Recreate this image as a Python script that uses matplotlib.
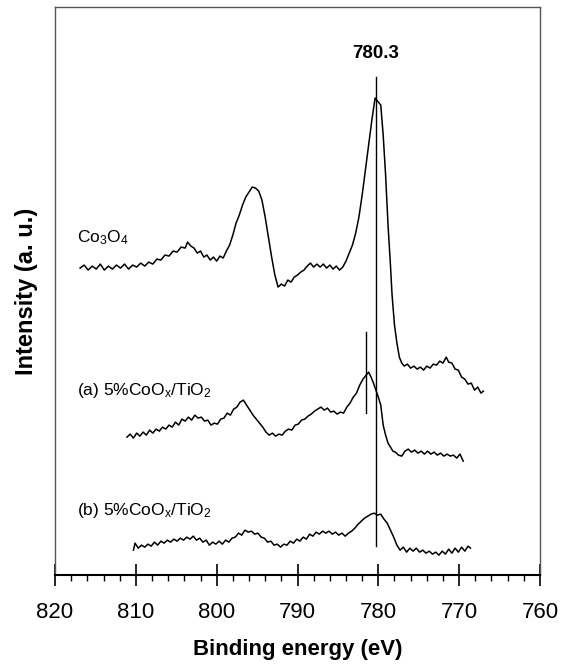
import matplotlib
matplotlib.use("Agg")
import matplotlib.pyplot as plt
from matplotlib.ticker import MultipleLocator

plt.rcParams['font.family'] = ['Liberation Sans', 'DejaVu Sans']
plt.rcParams['mathtext.fontset'] = 'custom'
plt.rcParams['mathtext.rm'] = 'Liberation Sans'
plt.rcParams['mathtext.it'] = 'Liberation Sans'
plt.rcParams['mathtext.bf'] = 'Liberation Sans:bold'

# Binding energy (eV) and intensity (a.u., offset stacked)
co3o4_be = [816.9, 816.4, 815.9, 815.4, 814.9, 814.4, 813.9, 813.4, 812.9, 812.4,
            811.9, 811.4, 810.9, 810.4, 809.9, 809.4, 808.9, 808.4, 807.9, 807.4,
            806.9, 806.4, 805.9, 805.4, 804.9, 804.4, 803.9, 803.6, 803.2, 802.8,
            802.4, 802.0, 801.6, 801.2, 800.8, 800.4, 800.0, 799.6, 799.2, 798.8,
            798.4, 798.0, 797.6, 797.2, 796.8, 796.4, 796.0, 795.6, 795.2, 794.8,
            794.4, 794.0, 793.6, 793.2, 792.8, 792.4, 792.0, 791.6, 791.2, 790.8,
            790.4, 790.0, 789.6, 789.2, 788.8, 788.4, 788.0, 787.6, 787.2, 786.8,
            786.4, 786.0, 785.6, 785.2, 784.8, 784.4, 784.0, 783.6, 783.2, 782.8,
            782.4, 782.0, 781.6, 781.2, 780.8, 780.4, 780.0, 779.7, 779.4, 779.1,
            778.8, 778.5, 778.3, 778.0, 777.7, 777.4, 777.1, 776.8, 776.4, 776.0,
            775.6, 775.2, 774.8, 774.4, 774.0, 773.6, 773.2, 772.8, 772.4, 772.0,
            771.6, 771.3, 770.9, 770.5, 770.1, 769.7, 769.3, 768.9, 768.5, 768.1,
            767.7, 767.3, 767.0]
co3o4_int = [307, 310, 305, 309, 306, 311, 305, 309, 306, 310,
             307, 311, 306, 310, 308, 312, 309, 313, 311, 316,
             315, 320, 319, 324, 323, 328, 327, 333, 329, 327,
             322, 324, 318, 320, 315, 318, 314, 319, 317, 324,
             330, 340, 352, 360, 370, 378, 383, 388, 387, 384,
             375, 358, 338, 318, 300, 288, 291, 289, 295, 293,
             298, 300, 303, 305, 309, 312, 308, 311, 308, 311,
             307, 310, 306, 309, 305, 308, 314, 322, 330, 342,
             358, 380, 405, 430, 455, 477, 473, 470, 440, 400,
             350, 310, 280, 250, 232, 218, 212, 209, 211, 207,
             209, 206, 208, 205, 209, 207, 211, 210, 214, 212,
             218, 213, 212, 206, 205, 198, 196, 191, 192, 185,
             188, 182, 184]

a_be = [811.1, 810.7, 810.3, 809.9, 809.5, 809.1, 808.7, 808.3, 807.9, 807.5,
        807.1, 806.7, 806.3, 805.9, 805.5, 805.1, 804.7, 804.3, 803.9, 803.5,
        803.1, 802.7, 802.3, 801.9, 801.5, 801.1, 800.7, 800.3, 799.9, 799.5,
        799.1, 798.7, 798.3, 797.9, 797.5, 797.1, 796.7, 796.3, 795.9, 795.5,
        795.1, 794.7, 794.3, 793.9, 793.5, 793.1, 792.7, 792.3, 791.9, 791.5,
        791.1, 790.7, 790.3, 789.9, 789.5, 789.1, 788.7, 788.3, 787.9, 787.5,
        787.1, 786.7, 786.3, 785.9, 785.5, 785.1, 784.7, 784.3, 783.9, 783.5,
        783.1, 782.7, 782.3, 781.9, 781.5, 781.2, 780.9, 780.6, 780.3, 780.0,
        779.7, 779.4, 779.1, 778.8, 778.5, 778.2, 777.9, 777.5, 777.1, 776.7,
        776.3, 775.9, 775.5, 775.1, 774.7, 774.3, 773.9, 773.5, 773.1, 772.7,
        772.3, 771.9, 771.5, 771.1, 770.7, 770.3, 769.9, 769.5]
a_int = [138, 141, 137, 142, 139, 143, 140, 145, 142, 146,
         144, 148, 146, 150, 148, 153, 150, 156, 154, 158,
         155, 160, 157, 158, 154, 155, 150, 152, 151, 156,
         157, 162, 160, 166, 168, 173, 175, 170, 165, 160,
         156, 152, 148, 143, 140, 142, 139, 141, 140, 144,
         146, 145, 150, 151, 155, 156, 159, 161, 164, 166,
         168, 165, 167, 163, 164, 161, 163, 162, 168, 172,
         178, 182, 190, 196, 200, 203, 198, 192, 185, 178,
         170, 150, 140, 132, 128, 124, 123, 120, 119, 124,
         126, 123, 125, 122, 124, 121, 124, 121, 123, 120,
         122, 119, 121, 119, 120, 117, 121, 114]

b_be = [810.3, 810.1, 809.7, 809.3, 808.9, 808.5, 808.1, 807.7, 807.3, 806.9,
        806.5, 806.1, 805.7, 805.3, 804.9, 804.5, 804.1, 803.7, 803.3, 802.9,
        802.5, 802.1, 801.7, 801.3, 800.9, 800.5, 800.1, 799.7, 799.3, 798.9,
        798.5, 798.1, 797.7, 797.3, 796.9, 796.5, 796.1, 795.7, 795.3, 794.9,
        794.5, 794.1, 793.7, 793.3, 792.9, 792.5, 792.1, 791.7, 791.3, 790.9,
        790.5, 790.1, 789.7, 789.3, 788.9, 788.5, 788.1, 787.7, 787.3, 786.9,
        786.5, 786.1, 785.7, 785.3, 784.9, 784.5, 784.1, 783.7, 783.3, 782.9,
        782.5, 782.1, 781.7, 781.3, 780.9, 780.5, 780.1, 779.7, 779.3, 778.9,
        778.5, 778.1, 777.7, 777.3, 776.9, 776.5, 776.1, 775.7, 775.3, 774.9,
        774.5, 774.1, 773.7, 773.3, 772.9, 772.5, 772.1, 771.7, 771.3, 770.9,
        770.5, 770.1, 769.7, 769.3, 768.9, 768.6]
b_int = [25, 32, 27, 30, 28, 31, 29, 33, 30, 34,
         32, 35, 33, 36, 34, 37, 35, 38, 36, 39,
         35, 37, 33, 35, 30, 33, 31, 34, 31, 35,
         33, 37, 38, 42, 40, 45, 43, 44, 41, 42,
         38, 37, 33, 34, 30, 31, 28, 31, 30, 34,
         32, 36, 34, 38, 36, 41, 39, 43, 41, 44,
         42, 44, 41, 43, 40, 42, 39, 42, 44, 47,
         51, 54, 57, 59, 61, 62, 60, 61, 56, 52,
         45, 38, 30, 25, 28, 23, 27, 24, 27, 23,
         25, 22, 24, 21, 23, 20, 24, 21, 26, 22,
         27, 23, 28, 24, 29, 27]

peak_main = 780.3
peak_a = 781.5
label_main = "780.3"
xticks = [820, 810, 800, 790, 780, 770, 760]

fig = plt.figure(figsize=(5.69, 6.68), dpi=100)
ax = fig.add_axes([0.0967, 0.139, 0.8523, 0.8505])

for be, it in [(co3o4_be, co3o4_int), (a_be, a_int), (b_be, b_int)]:
    ax.plot(be, it, color='black', lw=1.1)

ax.plot([peak_main, peak_main], [29, 498], color='black', lw=1.0)
ax.plot([peak_a, peak_a], [162, 243], color='black', lw=1.0)

ax.text(peak_main, 522, label_main, ha='center', va='center', fontsize=13.5, fontweight='bold')
ax.text(817.3, 337, r"Co$_3$O$_4$", ha='left', va='center', fontsize=12.5)
ax.text(817.3, 185, r"(a) 5%CoO$_x$/TiO$_2$", ha='left', va='center', fontsize=12.5)
ax.text(817.3, 65, r"(b) 5%CoO$_x$/TiO$_2$", ha='left', va='center', fontsize=12.5)

ax.set_xlim(820, 760)
ax.set_ylim(0, 568)
ax.set_xticks(xticks)
ax.xaxis.set_minor_locator(MultipleLocator(2))
ax.set_yticks([])
ax.tick_params(axis='x', which='major', direction='inout', length=16, width=1.2,
               labelsize=16, pad=11)
ax.tick_params(axis='x', which='minor', direction='out', length=4, width=1.0)

for s in ['top', 'right', 'left']:
    ax.spines[s].set_color('#555555')
    ax.spines[s].set_linewidth(1.0)
ax.spines['bottom'].set_linewidth(1.5)

ax.set_xlabel("Binding energy (eV)", fontsize=16, fontweight='bold', labelpad=12)
ax.set_ylabel("Intensity (a. u.)", fontsize=17, fontweight='bold', labelpad=12)

fig.savefig("out.png", dpi=100)
